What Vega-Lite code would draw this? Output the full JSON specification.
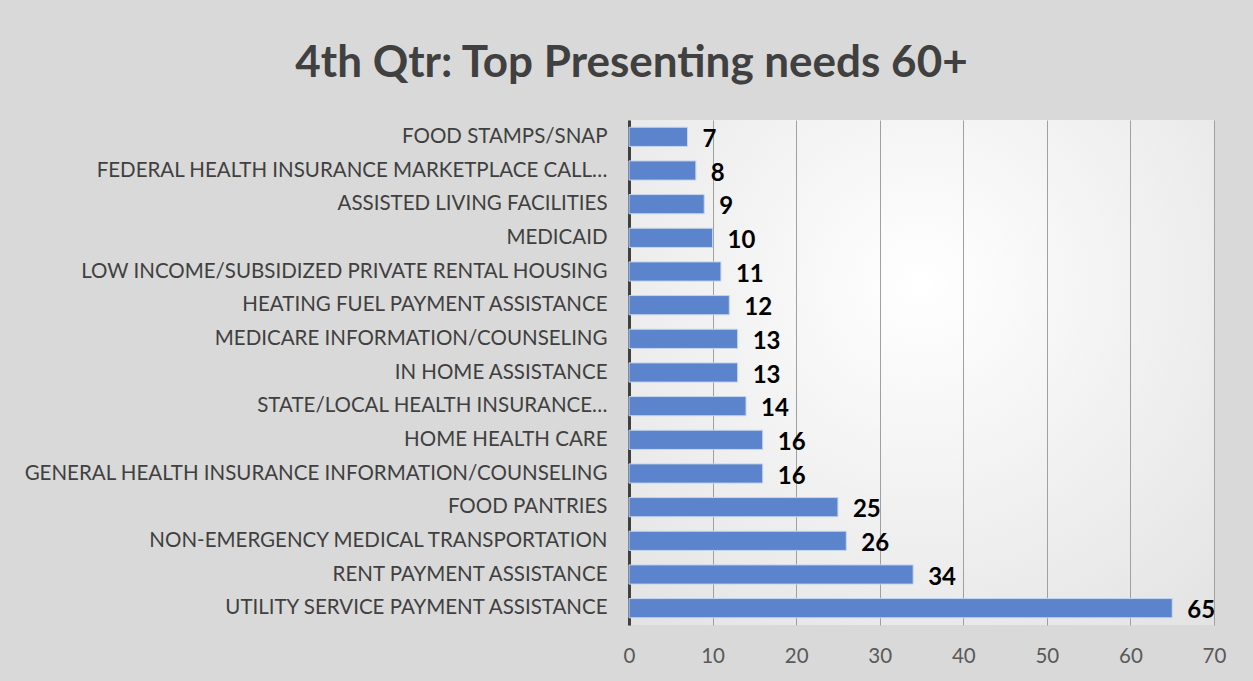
{
  "$schema": "https://vega.github.io/schema/vega-lite/v6.json",
  "width": 585,
  "height": 505,
  "autosize": {"type": "none"},
  "padding": {"left": 629, "top": 120, "right": 39, "bottom": 56},
  "background": "#d9d9d9",
  "title": {
    "text": "4th Qtr: Top Presenting needs 60+",
    "font": "Lato",
    "fontSize": 44,
    "fontWeight": "bold",
    "color": "#404040",
    "anchor": "middle",
    "dx": -290,
    "offset": 34
  },
  "data": {
    "values": [
      {"need": "FOOD STAMPS/SNAP", "count": 7},
      {"need": "FEDERAL HEALTH INSURANCE MARKETPLACE CALL…", "count": 8},
      {"need": "ASSISTED LIVING FACILITIES", "count": 9},
      {"need": "MEDICAID", "count": 10},
      {"need": "LOW INCOME/SUBSIDIZED PRIVATE RENTAL HOUSING", "count": 11},
      {"need": "HEATING FUEL PAYMENT ASSISTANCE", "count": 12},
      {"need": "MEDICARE INFORMATION/COUNSELING", "count": 13},
      {"need": "IN HOME ASSISTANCE", "count": 13},
      {"need": "STATE/LOCAL HEALTH INSURANCE…", "count": 14},
      {"need": "HOME HEALTH CARE", "count": 16},
      {"need": "GENERAL HEALTH INSURANCE INFORMATION/COUNSELING", "count": 16},
      {"need": "FOOD PANTRIES", "count": 25},
      {"need": "NON-EMERGENCY MEDICAL TRANSPORTATION", "count": 26},
      {"need": "RENT PAYMENT ASSISTANCE", "count": 34},
      {"need": "UTILITY SERVICE PAYMENT ASSISTANCE", "count": 65}
    ]
  },
  "encoding": {
    "y": {
      "field": "need",
      "type": "nominal",
      "sort": null,
      "title": null,
      "scale": {"paddingInner": 0.43, "paddingOuter": 0.215},
      "axis": {
        "labelFont": "Lato",
        "labelFontSize": 20.5,
        "labelColor": "#404040",
        "labelLimit": 800,
        "labelPadding": 22,
        "ticks": false,
        "domain": true,
        "domainColor": "#404040",
        "domainWidth": 3,
        "grid": false
      }
    },
    "x": {
      "field": "count",
      "type": "quantitative",
      "title": null,
      "scale": {"domain": [0, 70], "nice": false},
      "axis": {
        "values": [0, 10, 20, 30, 40, 50, 60, 70],
        "labelFont": "Lato",
        "labelFontSize": 20.5,
        "labelColor": "#595959",
        "labelPadding": 21,
        "labelFlush": false,
        "ticks": false,
        "domain": false,
        "grid": true,
        "gridColor": "#a0a0a0",
        "gridWidth": 1
      }
    }
  },
  "layer": [
    {
      "mark": {"type": "bar", "fill": "#5b84cd", "stroke": "#c5d5ee", "strokeWidth": 1}
    },
    {
      "mark": {
        "type": "text",
        "align": "left",
        "baseline": "middle",
        "dx": 15,
        "dy": 3,
        "font": "Lato",
        "fontSize": 24,
        "fontWeight": "bold",
        "color": "#000000"
      },
      "encoding": {"text": {"field": "count", "type": "quantitative"}}
    }
  ],
  "config": {
    "view": {
      "stroke": null,
      "fill": {
        "gradient": "radial",
        "x1": 0.5, "y1": 0.35, "r1": 0,
        "x2": 0.5, "y2": 0.35, "r2": 0.9,
        "stops": [
          {"offset": 0, "color": "#ffffff"},
          {"offset": 1, "color": "#dedede"}
        ]
      }
    }
  }
}
